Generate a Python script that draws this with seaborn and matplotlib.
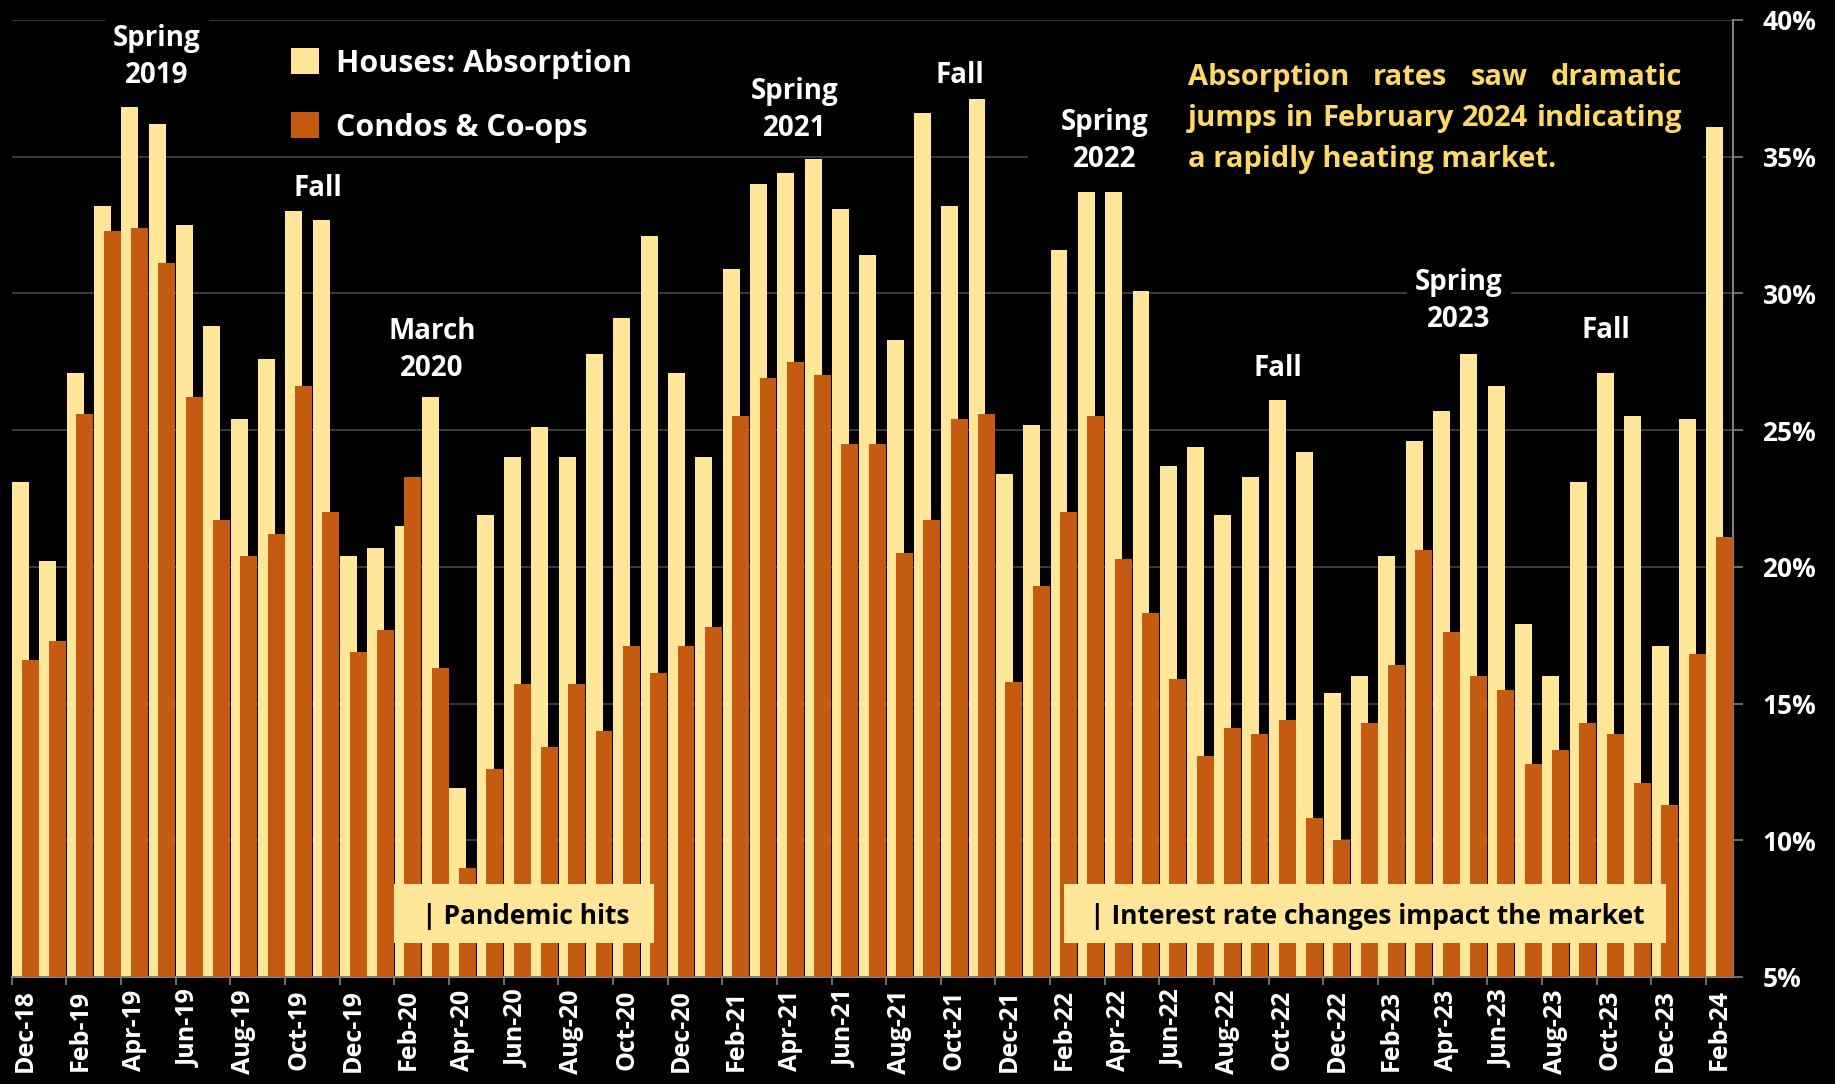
import numpy as np
import pandas as pd
import matplotlib
matplotlib.use("Agg")
import matplotlib.pyplot as plt
import seaborn as sns
from matplotlib.patches import Patch, Rectangle

# ---------------- data ----------------
months = [
    "Dec-18", "Jan-19", "Feb-19", "Mar-19", "Apr-19", "May-19", "Jun-19", "Jul-19",
    "Aug-19", "Sep-19", "Oct-19", "Nov-19", "Dec-19", "Jan-20", "Feb-20", "Mar-20",
    "Apr-20", "May-20", "Jun-20", "Jul-20", "Aug-20", "Sep-20", "Oct-20", "Nov-20",
    "Dec-20", "Jan-21", "Feb-21", "Mar-21", "Apr-21", "May-21", "Jun-21", "Jul-21",
    "Aug-21", "Sep-21", "Oct-21", "Nov-21", "Dec-21", "Jan-22", "Feb-22", "Mar-22",
    "Apr-22", "May-22", "Jun-22", "Jul-22", "Aug-22", "Sep-22", "Oct-22", "Nov-22",
    "Dec-22", "Jan-23", "Feb-23", "Mar-23", "Apr-23", "May-23", "Jun-23", "Jul-23",
    "Aug-23", "Sep-23", "Oct-23", "Nov-23", "Dec-23", "Jan-24", "Feb-24",
]
houses = [
    23.1, 20.2, 27.1, 33.2, 36.8, 36.2, 32.5, 28.8, 25.4, 27.6,
    33.0, 32.7, 20.4, 20.7, 21.5, 26.2, 11.9, 21.9, 24.0, 25.1,
    24.0, 27.8, 29.1, 32.1, 27.1, 24.0, 30.9, 34.0, 34.4, 34.9,
    33.1, 31.4, 28.3, 36.6, 33.2, 37.1, 23.4, 25.2, 31.6, 33.7,
    33.7, 30.1, 23.7, 24.4, 21.9, 23.3, 26.1, 24.2, 15.4, 16.0,
    20.4, 24.6, 25.7, 27.8, 26.6, 17.9, 16.0, 23.1, 27.1, 25.5,
    17.1, 25.4, 36.1,
]
condos = [
    16.6, 17.3, 25.6, 32.3, 32.4, 31.1, 26.2, 21.7, 20.4, 21.2,
    26.6, 22.0, 16.9, 17.7, 23.3, 16.3, 9.0, 12.6, 15.7, 13.4,
    15.7, 14.0, 17.1, 16.1, 17.1, 17.8, 25.5, 26.9, 27.5, 27.0,
    24.5, 24.5, 20.5, 21.7, 25.4, 25.6, 15.8, 19.3, 22.0, 25.5,
    20.3, 18.3, 15.9, 13.1, 14.1, 13.9, 14.4, 10.8, 10.0, 14.3,
    16.4, 20.6, 17.6, 16.0, 15.5, 12.8, 13.3, 14.3, 13.9, 12.1,
    11.3, 16.8, 21.1,
]
series_names = ["Houses: Absorption", "Condos & Co-ops"]
y_ticks = [5, 10, 15, 20, 25, 30, 35, 40]
y_tick_labels = ["5%", "10%", "15%", "20%", "25%", "30%", "35%", "40%"]

season_labels = ["Spring\n2019", "Fall", "March\n2020", "Spring\n2021", "Fall",
                 "Spring\n2022", "Fall", "Spring\n2023", "Fall"]
note_lines = [["Absorption", "rates", "saw", "dramatic"],
              ["jumps", "in", "February", "2024", "indicating"],
              ["a", "rapidly", "heating", "market."]]
band_labels = ["| Pandemic hits", "| Interest rate changes impact the market"]

# ---------------- style ----------------
YELLOW = "#FFE699"
ORANGE = "#C55A11"
GOLD = "#FFD966"
GRID = "#404040"
AXIS = "#808080"

W, H, DPI = 1835, 1084, 100

sns.set_theme(style="dark")
plt.rcParams["font.family"] = ["Open Sans", "DejaVu Sans"]
plt.rcParams["font.weight"] = "bold"


def fx(x):
    return x / W


def fy(y):
    return 1 - y / H


fig = plt.figure(figsize=(W / DPI, H / DPI), dpi=DPI, facecolor="black")
ax = fig.add_axes([fx(11.7), fy(977), (1733.3 - 11.7) / W, (977 - 20) / H])
ax.set_facecolor("black")

df = pd.DataFrame({"pos": np.arange(len(months)), "month": months,
                   "houses": houses, "condos": condos})
OFF, BW = 0.175, 0.62
sns.barplot(x=df["pos"] - OFF, y=df["houses"], native_scale=True, orient="x",
            width=BW, color=YELLOW, saturation=1, errorbar=None, linewidth=0,
            ax=ax, zorder=2)
sns.barplot(x=df["pos"] + OFF, y=df["condos"], native_scale=True, orient="x",
            width=BW, color=ORANGE, saturation=1, errorbar=None, linewidth=0,
            ax=ax, zorder=3)

ax.set_xlim(-0.5, len(months) - 0.5)
ax.set_ylim(5, 40)
ax.set_xlabel("")
ax.set_ylabel("")

major = df["pos"].values[::2]
ax.set_xticks(major, [months[i] for i in major], rotation=90)
ax.set_xticks(major - 0.5, minor=True)
ax.tick_params(axis="x", which="major", length=0, pad=9, labelsize=18,
               labelcolor="white", bottom=True)
ax.tick_params(axis="x", which="minor", length=6, color=AXIS, width=1.2, bottom=True)

ax.yaxis.tick_right()
ax.set_yticks(y_ticks, y_tick_labels)
ax.tick_params(axis="y", which="major", length=7, color=AXIS, width=1.2, pad=14,
               labelsize=19, labelcolor="white", right=True, left=False)

ax.grid(axis="y", color=GRID, linewidth=1.3)
ax.grid(axis="x", visible=False)
ax.set_axisbelow(True)
for s in ["top", "left"]:
    ax.spines[s].set_visible(False)
for s in ["bottom", "right"]:
    ax.spines[s].set_visible(True)
    ax.spines[s].set_color(AXIS)
    ax.spines[s].set_linewidth(1.5)

# ---------------- season annotations ----------------
season_pos = [(157, 57, True), (318, 189, False), (432, 350, False),
              (795, 110, False), (960, 76, False), (1105, 141, True),
              (1278, 369, False), (1459, 301, True), (1606, 331, False)]
for txt, (px, py, boxed) in zip(season_labels, season_pos):
    kw = {}
    if boxed:
        kw["bbox"] = dict(facecolor="black", edgecolor="none",
                          boxstyle="square,pad=0.3")
    fig.text(fx(px), fy(py), txt, ha="center", va="center", fontsize=20,
             color="white", weight="bold", linespacing=1.38, zorder=4, **kw)

# ---------------- legend ----------------
handles = [Patch(facecolor=YELLOW, edgecolor="none", label=series_names[0]),
           Patch(facecolor=ORANGE, edgecolor="none", label=series_names[1])]
leg = fig.legend(handles=handles, loc="center left",
                 bbox_to_anchor=(fx(291), fy(95.5)), frameon=False,
                 prop={"size": 22, "weight": "bold"}, handlelength=0.92,
                 handleheight=0.92, handletextpad=0.55, labelspacing=1.1,
                 borderpad=0, borderaxespad=0)
for t in leg.get_texts():
    t.set_color("white")

# ---------------- justified note ----------------
fig.add_artist(Rectangle((fx(1028), fy(180)), (1703 - 1028) / W, 130 / H,
                         transform=fig.transFigure, facecolor="black",
                         edgecolor="none", zorder=2.5))
fig.canvas.draw()
renderer = fig.canvas.get_renderer()
X0, X1 = 1188, 1682
baselines = [85, 126, 167]
for li, (words, by) in enumerate(zip(note_lines, baselines)):
    if li == len(note_lines) - 1:
        fig.text(fx(X0), fy(by), " ".join(words), ha="left", va="baseline",
                 fontsize=21, color=GOLD, weight="bold", zorder=4)
        continue
    texts = [fig.text(0, fy(by), w, ha="left", va="baseline", fontsize=21,
                      color=GOLD, weight="bold", zorder=4) for w in words]
    widths = [t.get_window_extent(renderer).width for t in texts]
    gap = (X1 - X0 - sum(widths)) / (len(words) - 1)
    x = X0
    for t, wd in zip(texts, widths):
        t.set_x(fx(x))
        x += wd + gap

# ---------------- band labels ----------------
band_boxes = [(394, 654, 422), (1064, 1666, 1090)]
for txt, (bx0, bx1, tx) in zip(band_labels, band_boxes):
    fig.add_artist(Rectangle((fx(bx0), fy(942.7)), (bx1 - bx0) / W, (942.7 - 884) / H,
                             transform=fig.transFigure, facecolor=YELLOW,
                             edgecolor="none", zorder=2.5))
    fig.text(fx(tx), fy(917), txt, ha="left", va="center", fontsize=19,
             color="black", weight="bold", zorder=4)

fig.savefig("out.png", dpi=DPI, facecolor="black")
